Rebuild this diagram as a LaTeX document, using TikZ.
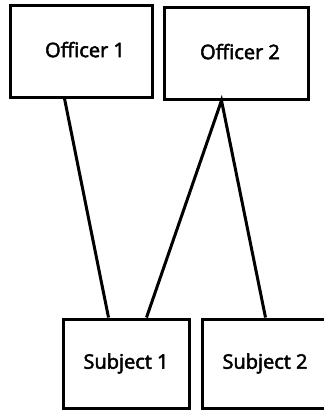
\documentclass[tikz,border=0pt]{standalone}
\usepackage{fontspec}
\setmainfont[FakeBold=2.5]{Open Sans}
\newcommand{\offs}[3]{\raisebox{#2}{\hspace*{#1}#3}}
\begin{document}
\begin{tikzpicture}[x=1pt,y=-1pt,
  box/.style={draw=black,line width=3pt,fill=white,inner sep=0pt,font=\fontsize{20}{24}\selectfont},
  link/.style={draw=black,line width=3pt}]
\clip (0,0) rectangle (324,410);
\useasboundingbox (0,0) rectangle (324,410);
\fill[white] (0,0) rectangle (324,410);
\node[box,minimum width=142pt,minimum height=92pt] (o1) at (81,51) {\offs{8pt}{3pt}{Officer 1}};
\node[box,minimum width=144pt,minimum height=92pt] (o2) at (236,53) {\offs{8pt}{3pt}{Officer 2}};
\node[box,minimum width=126pt,minimum height=89pt] (s1) at (126,363.5) {\offs{0pt}{-3pt}{Subject 1}};
\node[box,minimum width=126pt,minimum height=89pt] (s2) at (265,363.5) {\offs{0pt}{-3pt}{Subject 2}};
\coordinate (o1b) at ([xshift=56pt]o1.south west);
\coordinate (o2b) at ([xshift=59pt]o2.south west);
\coordinate (s1a) at ([xshift=47pt]s1.north west);
\coordinate (s1b) at ([xshift=85pt]s1.north west);
\coordinate (s2a) at ([xshift=65pt]s2.north west);
\draw[link] (o1b) -- (s1a);
\draw[link,line join=miter] (s1b) -- (o2b) -- (s2a);
\end{tikzpicture}
\end{document}
